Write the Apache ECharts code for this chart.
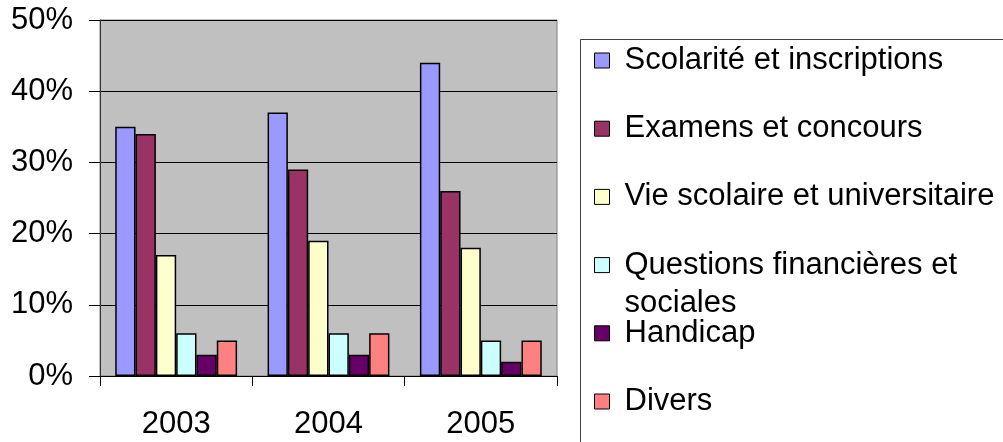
<!DOCTYPE html>
<html>
<head>
<meta charset="utf-8">
<script src="https://cdn.jsdelivr.net/npm/echarts@6/dist/echarts.min.js"></script>
<style>
html,body{margin:0;padding:0;background:#fff;}
#c{width:1003px;height:442px;}
</style>
</head>
<body>
<div id="c"></div>
<script>
const years = ['2003', '2004', '2005'];
const seriesNames = ['Scolarité et inscriptions', 'Examens et concours', 'Vie scolaire et universitaire', 'Questions financières et sociales', 'Handicap', 'Divers'];
const scolarite = [35, 37, 44];
const examens = [34, 29, 26];
const vieScolaire = [17, 19, 18];
const questions = [6, 6, 5];
const handicap = [3, 3, 2];
const divers = [5, 6, 5];
const yTicks = [0, 10, 20, 30, 40, 50];

const colors = ['#9999FF', '#993366', '#FFFFCC', '#CCFFFF', '#660066', '#FF8080'];
const values = [scolarite, examens, vieScolaire, questions, handicap, divers];
const FONT = 'Liberation Sans';
const FS = 31;
const LH = 38;

const chart = echarts.init(document.getElementById('c'), null, {renderer: 'canvas'});

const legends = seriesNames.map((n, i) => {
  const twoLine = n === 'Questions financières et sociales';
  return {
    orient: 'vertical',
    left: 594,
    top: 53 + 68.2 * i - (LH * 1.5 - 7.5),
    data: [n],
    itemWidth: 15,
    itemHeight: 15,
    itemGap: 0,
    padding: 0,
    icon: 'rect',
    selectedMode: false,
    formatter: twoLine ? '\nQuestions financières et\nsociales' : '\n{name}\n',
    textStyle: {
      fontFamily: FONT,
      fontSize: FS,
      color: '#000',
      lineHeight: LH,
      padding: [0, 0, 0, 10]
    },
    itemStyle: {borderColor: '#000', borderWidth: 1}
  };
});

chart.setOption({
  animation: false,
  textStyle: {fontFamily: FONT},
  grid: {
    left: 100, top: 20, right: 446, bottom: 66,
    show: true, backgroundColor: '#C0C0C0', borderColor: '#808080', borderWidth: 1
  },
  graphic: [{
    type: 'rect',
    shape: {x: 580.5, y: 39.5, width: 600, height: 600},
    style: {fill: 'none', stroke: '#444', lineWidth: 1},
    silent: true,
    z: 0
  }],
  legend: legends,
  xAxis: {
    type: 'category',
    data: years,
    boundaryGap: true,
    axisLine: {show: true, lineStyle: {color: '#000', width: 1}},
    axisTick: {show: true, alignWithLabel: false, length: 10, lineStyle: {color: '#000'}},
    axisLabel: {fontFamily: FONT, fontSize: FS, color: '#000', margin: 33},
    splitLine: {show: false}
  },
  yAxis: {
    type: 'value',
    min: yTicks[0],
    max: yTicks[yTicks.length - 1],
    interval: 10,
    axisLine: {show: true, lineStyle: {color: '#333', width: 1}},
    axisTick: {show: true, length: 11, lineStyle: {color: '#000'}},
    axisLabel: {fontFamily: FONT, fontSize: FS, color: '#000', margin: 27, formatter: '{value}%'},
    splitLine: {show: true, lineStyle: {color: '#000', width: 1}}
  },
  series: seriesNames.map((n, i) => ({
    name: n,
    type: 'bar',
    data: values[i],
    barGap: '0%',
    barCategoryGap: '20%',
    itemStyle: {color: colors[i], borderColor: '#000', borderWidth: 1.5}
  }))
});
</script>
</body>
</html>
